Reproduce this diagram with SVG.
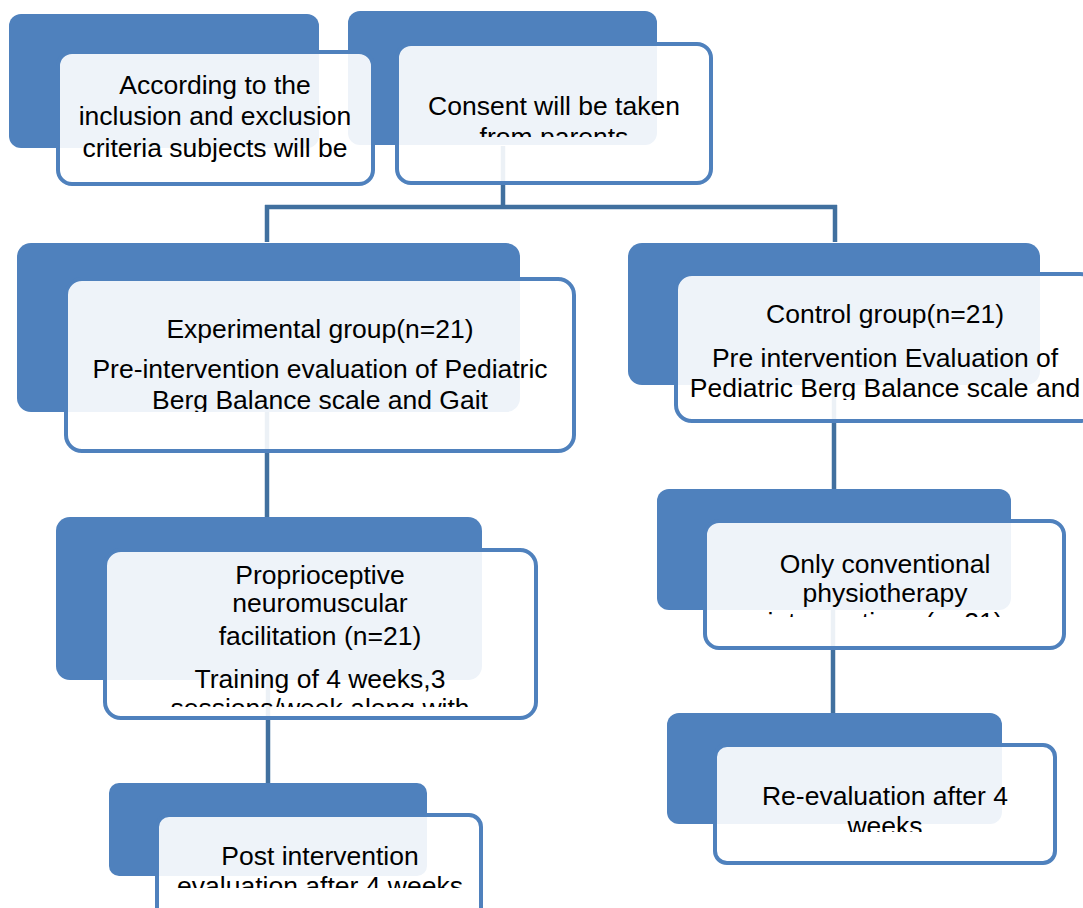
<svg xmlns="http://www.w3.org/2000/svg" width="1083" height="908" viewBox="0 0 1083 908">
<style>
.back{fill:#4F81BD}
.front{fill:#FFFFFF;fill-opacity:0.9;stroke:#4F81BD;stroke-width:4}
.conn{stroke:#41709F;stroke-width:4.5;fill:none}
text{font-family:"Liberation Sans",Arial,sans-serif;font-size:26.5px;fill:#000;text-anchor:middle}
</style>
<defs>
<clipPath id="c2"><rect x="395" y="40" width="320" height="97"/></clipPath>
<clipPath id="c3"><rect x="60" y="275" width="520" height="137"/></clipPath>
<clipPath id="c4"><rect x="670" y="270" width="413" height="130"/></clipPath>
<clipPath id="c5"><rect x="100" y="545" width="440" height="162"/></clipPath>
<clipPath id="c6"><rect x="700" y="515" width="370" height="102"/></clipPath>
<clipPath id="c7"><rect x="150" y="810" width="335" height="78"/></clipPath>
<clipPath id="c8"><rect x="710" y="740" width="350" height="92"/></clipPath>
</defs>
<g id="connectors">
<path class="conn" d="M503 146 V207 M265 207 H837 M267 205 V242 M835 205 V242"/>
<path class="conn" d="M267 412 V518"/>
<path class="conn" d="M834 385 V490"/>
<path class="conn" d="M268 680 V784"/>
<path class="conn" d="M833 610 V714"/>
</g>
<g id="backs">
<rect class="back" x="9" y="14" width="310" height="134" rx="12"/>
<rect class="back" x="348" y="11" width="309" height="134" rx="12"/>
<rect class="back" x="17" y="243" width="503" height="169" rx="14"/>
<rect class="back" x="628" y="243" width="412" height="142" rx="14"/>
<rect class="back" x="56" y="517" width="426" height="163" rx="14"/>
<rect class="back" x="657" y="489" width="354" height="121" rx="12"/>
<rect class="back" x="109" y="783" width="318" height="93" rx="10"/>
<rect class="back" x="667" y="713" width="335" height="111" rx="12"/>
</g>
<g id="node1">
<rect class="front" x="58" y="52" width="315" height="132" rx="14"/>
<text x="215" y="94">According to the</text>
<text x="215" y="125">inclusion and exclusion</text>
<text x="215" y="157">criteria subjects will be</text>
</g>
<g id="node2">
<rect class="front" x="397" y="44" width="314" height="139" rx="14"/>
<g clip-path="url(#c2)">
<text x="554" y="115">Consent will be taken</text>
<text x="554" y="146">from parents</text>
</g>
</g>
<g id="node3">
<rect class="front" x="66" y="279" width="508" height="172" rx="16"/>
<g clip-path="url(#c3)">
<text x="320" y="338">Experimental group(n=21)</text>
<text x="320" y="378">Pre-intervention evaluation of Pediatric</text>
<text x="320" y="409">Berg Balance scale and Gait</text>
</g>
</g>
<g id="node4">
<rect class="front" x="676" y="274" width="420" height="147" rx="16"/>
<g clip-path="url(#c4)">
<text x="885" y="323">Control group(n=21)</text>
<text x="885" y="367">Pre intervention Evaluation of</text>
<text x="885" y="397">Pediatric Berg Balance scale and</text>
</g>
</g>
<g id="node5">
<rect class="front" x="105" y="550" width="431" height="168" rx="16"/>
<g clip-path="url(#c5)">
<text x="320" y="584">Proprioceptive</text>
<text x="320" y="612">neuromuscular</text>
<text x="320" y="645">facilitation (n=21)</text>
<text x="320" y="688">Training of 4 weeks,3</text>
<text x="320" y="717">sessions/week along with</text>
</g>
</g>
<g id="node6">
<rect class="front" x="705" y="521" width="359" height="127" rx="14"/>
<g clip-path="url(#c6)">
<text x="885" y="573">Only conventional</text>
<text x="885" y="602">physiotherapy</text>
<text x="885" y="631">interventions (n=21)</text>
</g>
</g>
<g id="node7">
<rect class="front" x="157" y="815" width="324" height="110" rx="12"/>
<g clip-path="url(#c7)">
<text x="320" y="865">Post intervention</text>
<text x="320" y="895">evaluation after 4 weeks</text>
</g>
</g>
<g id="node8">
<rect class="front" x="715" y="745" width="340" height="118" rx="12"/>
<g clip-path="url(#c8)">
<text x="885" y="805">Re-evaluation after 4</text>
<text x="885" y="835">weeks</text>
</g>
</g>
</svg>
